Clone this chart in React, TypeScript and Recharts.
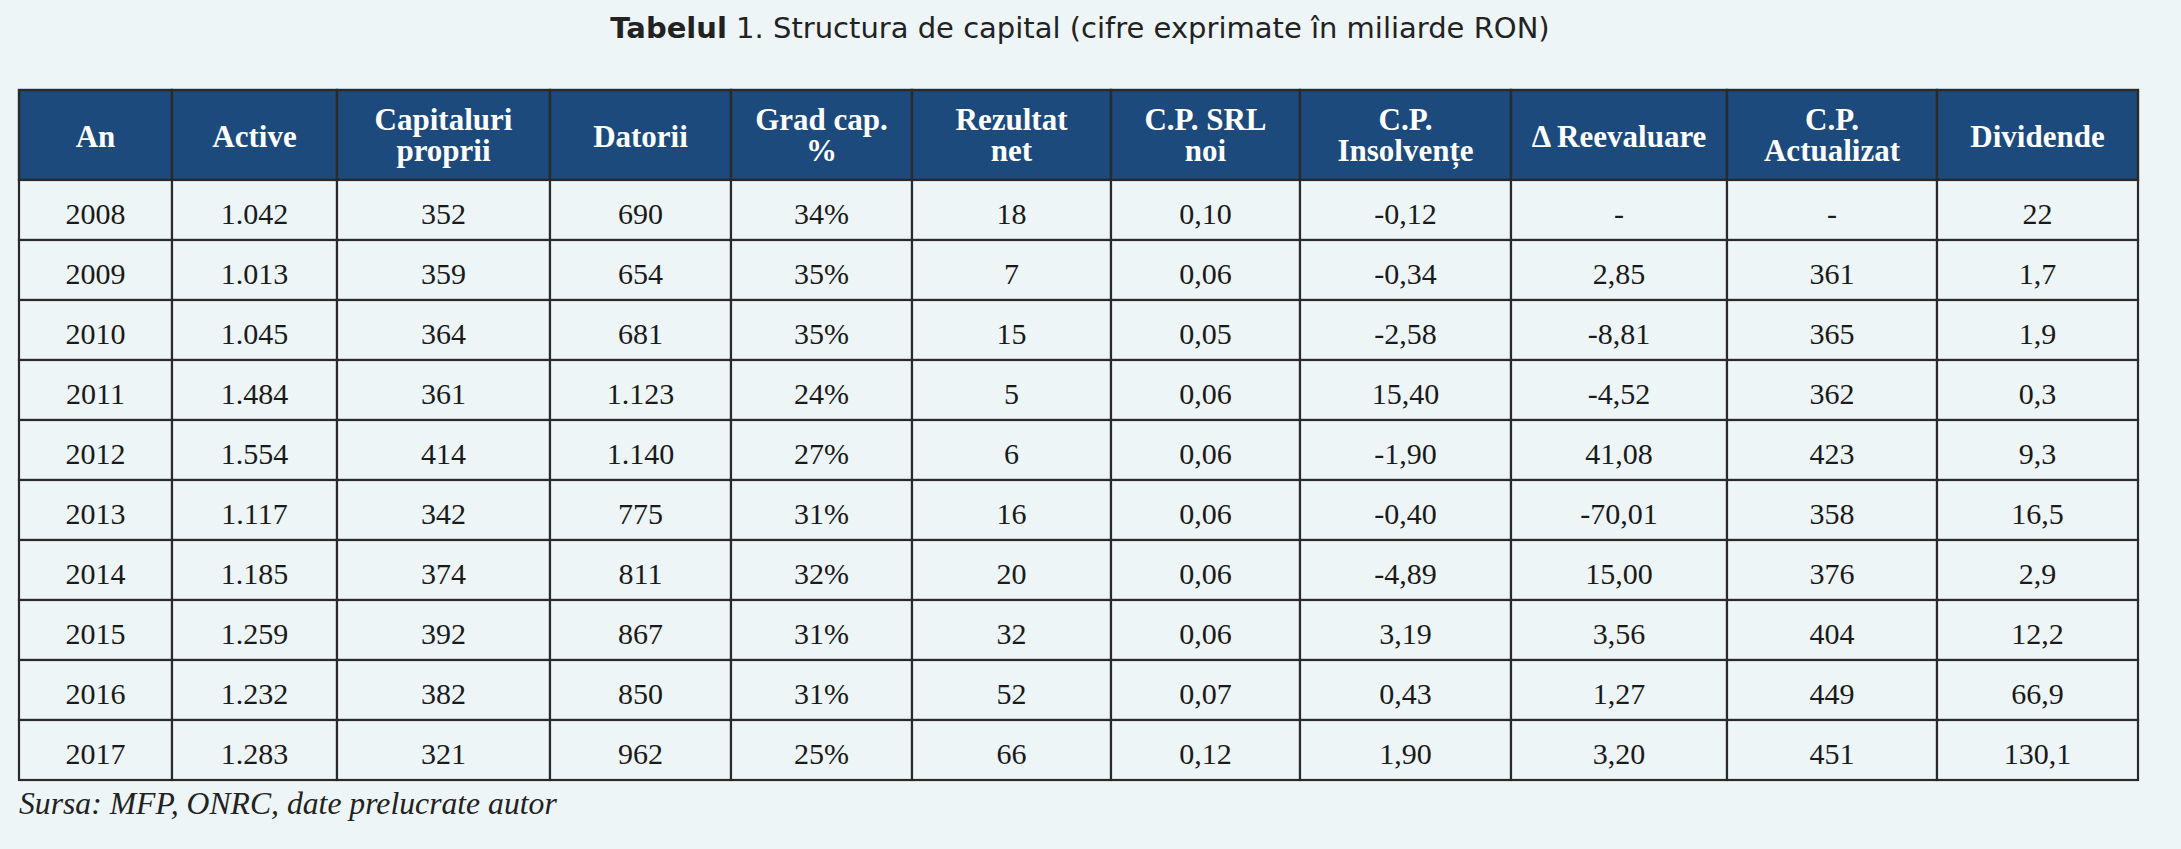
import React from 'react';
import { BarChart, Bar, XAxis, YAxis } from 'recharts';

// ---------- data ----------
const years = [2008, 2009, 2010, 2011, 2012, 2013, 2014, 2015, 2016, 2017];
const active = [1042, 1013, 1045, 1484, 1554, 1117, 1185, 1259, 1232, 1283];
const capitaluri = [352, 359, 364, 361, 414, 342, 374, 392, 382, 321];
const datorii = [690, 654, 681, 1123, 1140, 775, 811, 867, 850, 962];
const gradCap = [34, 35, 35, 24, 27, 31, 32, 31, 31, 25];
const rezultatNet = [18, 7, 15, 5, 6, 16, 20, 32, 52, 66];
const cpSrlNoi = [0.1, 0.06, 0.05, 0.06, 0.06, 0.06, 0.06, 0.06, 0.07, 0.12];
const cpInsolvente = [-0.12, -0.34, -2.58, 15.4, -1.9, -0.4, -4.89, 3.19, 0.43, 1.9];
const reevaluare: (number | null)[] = [null, 2.85, -8.81, -4.52, 41.08, -70.01, 15.0, 3.56, 1.27, 3.2];
const cpActualizat: (number | null)[] = [null, 361, 365, 362, 423, 358, 376, 404, 449, 451];
const dividende = [22, 1.7, 1.9, 0.3, 9.3, 16.5, 2.9, 12.2, 66.9, 130.1];

const headers: string[][] = [
  ['An'],
  ['Active'],
  ['Capitaluri', 'proprii'],
  ['Datorii'],
  ['Grad cap.', '%'],
  ['Rezultat', 'net'],
  ['C.P. SRL', 'noi'],
  ['C.P.', 'Insolvențe'],
  ['Δ Reevaluare'],
  ['C.P.', 'Actualizat'],
  ['Dividende'],
];

const title = 'Tabelul';
const titleRest = ' 1. Structura de capital (cifre exprimate în miliarde RON)';
const source = 'Sursa: MFP, ONRC, date prelucrate autor';

// ---------- layout ----------
const W = 2181;
const H = 849;
const TABLE_LEFT = 19;
const TABLE_TOP = 90;
const HEADER_H = 90;
const ROW_H = 60;
const PAD = 5;
const colWidths = [153, 165, 213, 181, 181, 199, 189, 211, 216, 210, 201];
const TOTAL = colWidths.reduce((a, b) => a + b, 0);

const BG = '#edf5f7';
const HEAD_BG = '#1c4a7c';
const BORDER = '#2a2a2a';
const TEXT = '#1a1a1a';
const SERIF = "'Liberation Serif', 'Times New Roman', serif";

// ---------- formatting ----------
const fmtThousands = (n: number) => String(n).replace(/\B(?=(\d{3})+(?!\d))/g, '.');
const fmtDec = (n: number, d: number) => n.toFixed(d).replace('.', ',');
const dash = (v: number | null, f: (n: number) => string) => (v === null ? '-' : f(v));

const columnsText: string[][] = [
  years.map(String),
  active.map(fmtThousands),
  capitaluri.map(fmtThousands),
  datorii.map(fmtThousands),
  gradCap.map((v) => `${v}%`),
  rezultatNet.map(String),
  cpSrlNoi.map((v) => fmtDec(v, 2)),
  cpInsolvente.map((v) => fmtDec(v, 2)),
  reevaluare.map((v) => dash(v, (n) => fmtDec(n, 2))),
  cpActualizat.map((v) => dash(v, fmtThousands)),
  dividende.map((v) => (Number.isInteger(v) ? String(v) : fmtDec(v, 1))),
];

const bodyRows = years.map((y, r) => {
  const row: Record<string, number | string> = { label: String(y) };
  colWidths.forEach((w, i) => {
    row[`c${i}`] = w;
    row[`t${i}`] = columnsText[i][r];
  });
  return row;
});

const headRows = [
  (() => {
    const row: Record<string, number | string> = { label: 'header' };
    colWidths.forEach((w, i) => {
      row[`c${i}`] = w;
    });
    return row;
  })(),
];

const BodyCell = (i: number) => (p: any) => {
  const { x, y, width, height, index } = p;
  const txt = bodyRows[index] ? (bodyRows[index][`t${i}`] as string) : '';
  return (
    <g>
      <rect x={x} y={y} width={width} height={height} fill={BG} stroke={BORDER} strokeWidth={2.2} />
      <text
        x={x + width / 2}
        y={y + height / 2 + 14}
        textAnchor="middle"
        fontFamily={SERIF}
        fontSize={30}
        fill={TEXT}
      >
        {txt}
      </text>
    </g>
  );
};

const HeadCell = (i: number) => (p: any) => {
  const { x, y, width, height } = p;
  const lines = headers[i];
  const cx = x + width / 2;
  const cy = y + height / 2;
  return (
    <g>
      <rect x={x} y={y} width={width} height={height} fill={HEAD_BG} stroke={BORDER} strokeWidth={2.4} />
      {lines.length === 1 ? (
        <text x={cx} y={cy + 12} textAnchor="middle" fontFamily={SERIF} fontWeight="bold" fontSize={31} fill="#ffffff">
          {lines[0]}
        </text>
      ) : (
        <text textAnchor="middle" fontFamily={SERIF} fontWeight="bold" fontSize={31} fill="#ffffff">
          <tspan x={cx} y={cy - 5}>{lines[0]}</tspan>
          <tspan x={cx} y={cy + 26}>{lines[1]}</tspan>
        </text>
      )}
    </g>
  );
};

export default function App() {
  const margin = { top: PAD, bottom: PAD, left: TABLE_LEFT, right: W - TABLE_LEFT - TOTAL };
  return (
    <div style={{ position: 'absolute', left: 0, top: 0, width: W, height: H, background: BG, overflow: 'hidden' }}>
      <svg width={W} height={H} style={{ position: 'absolute', left: 0, top: 0 }}>
        <text
          x={1080}
          y={38}
          textAnchor="middle"
          fontFamily="'DejaVu Sans', Verdana, sans-serif"
          fontSize={29}
          fill="#222"
        >
          <tspan fontWeight="bold">{title}</tspan>
          {titleRest}
        </text>
        <text x={TABLE_LEFT} y={814} fontFamily={SERIF} fontStyle="italic" fontSize={31.7} fill="#222">
          {source}
        </text>
      </svg>
      <div style={{ position: 'absolute', left: 0, top: TABLE_TOP - PAD }}>
        <BarChart
          width={W}
          height={HEADER_H + 2 * PAD}
          data={headRows}
          layout="vertical"
          margin={margin}
          barCategoryGap={0}
          barGap={0}
        >
          <XAxis type="number" hide domain={[0, TOTAL]} />
          <YAxis type="category" dataKey="label" hide />
          {colWidths.map((_, i) => (
            <Bar key={i} dataKey={`c${i}`} stackId="h" isAnimationActive={false} shape={HeadCell(i)} />
          ))}
        </BarChart>
      </div>
      <div style={{ position: 'absolute', left: 0, top: TABLE_TOP + HEADER_H - PAD }}>
        <BarChart
          width={W}
          height={ROW_H * years.length + 2 * PAD}
          data={bodyRows}
          layout="vertical"
          margin={margin}
          barCategoryGap={0}
          barGap={0}
        >
          <XAxis type="number" hide domain={[0, TOTAL]} />
          <YAxis type="category" dataKey="label" hide />
          {colWidths.map((_, i) => (
            <Bar key={i} dataKey={`c${i}`} stackId="b" isAnimationActive={false} shape={BodyCell(i)} />
          ))}
        </BarChart>
      </div>
    </div>
  );
}
